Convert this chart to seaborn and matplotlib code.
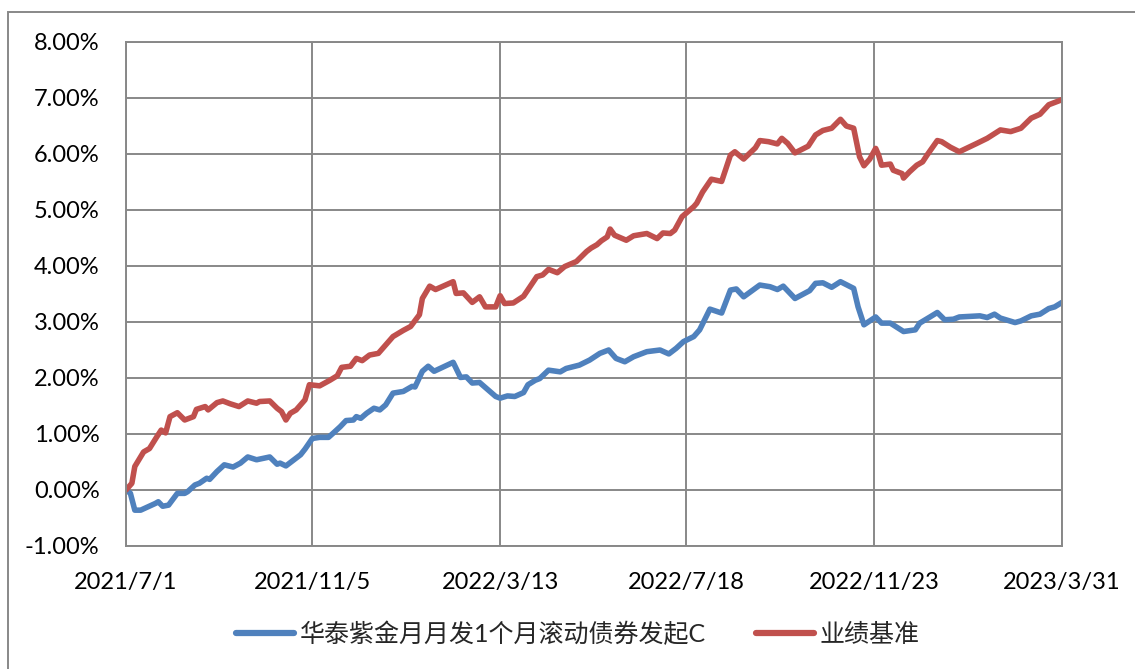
import matplotlib
matplotlib.use("Agg")
import matplotlib.pyplot as plt
import matplotlib.dates as mdates
from matplotlib.patches import Rectangle
from matplotlib.ticker import FuncFormatter, MultipleLocator
import pandas as pd
import seaborn as sns

FUND_NAME = "华泰紫金月月发1个月滚动债券发起C"
BENCH_NAME = "业绩基准"

# cumulative return of the fund, in percent
fund_dates = [
    "2021-07-01", "2021-07-04", "2021-07-07", "2021-07-11", "2021-07-16", "2021-07-21", "2021-07-23",
    "2021-07-26", "2021-07-30", "2021-08-05", "2021-08-10", "2021-08-12", "2021-08-17", "2021-08-20",
    "2021-08-25", "2021-08-27", "2021-09-01", "2021-09-06", "2021-09-12", "2021-09-17", "2021-09-22",
    "2021-09-28", "2021-10-07", "2021-10-12", "2021-10-14", "2021-10-18", "2021-10-22", "2021-10-28",
    "2021-10-31", "2021-11-05", "2021-11-10", "2021-11-16", "2021-11-19", "2021-11-24", "2021-11-28",
    "2021-12-03", "2021-12-05", "2021-12-08", "2021-12-12", "2021-12-17", "2021-12-21", "2021-12-25",
    "2021-12-30", "2022-01-06", "2022-01-12", "2022-01-14", "2022-01-19", "2022-01-23", "2022-01-27",
    "2022-02-09", "2022-02-14", "2022-02-18", "2022-02-22", "2022-02-27", "2022-03-10", "2022-03-13",
    "2022-03-18", "2022-03-23", "2022-03-29", "2022-04-01", "2022-04-06", "2022-04-09", "2022-04-15",
    "2022-04-23", "2022-04-27", "2022-05-06", "2022-05-13", "2022-05-20", "2022-05-26", "2022-05-31",
    "2022-06-06", "2022-06-12", "2022-06-21", "2022-06-27", "2022-06-30", "2022-07-06", "2022-07-11",
    "2022-07-16", "2022-07-23", "2022-07-27", "2022-08-03", "2022-08-11", "2022-08-17", "2022-08-21",
    "2022-08-26", "2022-09-06", "2022-09-13", "2022-09-18", "2022-09-22", "2022-09-30", "2022-10-10",
    "2022-10-14", "2022-10-19", "2022-10-25", "2022-10-31", "2022-11-09", "2022-11-12", "2022-11-16",
    "2022-11-24", "2022-11-28", "2022-12-04", "2022-12-13", "2022-12-21", "2022-12-24", "2022-12-31",
    "2023-01-05", "2023-01-10", "2023-01-16", "2023-01-20", "2023-02-03", "2023-02-08", "2023-02-13",
    "2023-02-17", "2023-02-27", "2023-03-03", "2023-03-10", "2023-03-16", "2023-03-22", "2023-03-26",
    "2023-03-31",
]
fund_values = [
    0.00, -0.06, -0.36, -0.36, -0.30, -0.24, -0.21,
    -0.29, -0.27, -0.06, -0.06, -0.03, 0.09, 0.12,
    0.21, 0.19, 0.33, 0.45, 0.41, 0.48, 0.59,
    0.54, 0.59, 0.46, 0.48, 0.43, 0.51, 0.63,
    0.73, 0.92, 0.94, 0.94, 1.01, 1.13, 1.24,
    1.25, 1.31, 1.28, 1.37, 1.46, 1.43, 1.52,
    1.73, 1.76, 1.85, 1.84, 2.12, 2.21, 2.12,
    2.28, 2.01, 2.02, 1.91, 1.92, 1.67, 1.64,
    1.68, 1.67, 1.74, 1.88, 1.96, 1.99, 2.14,
    2.11, 2.17, 2.23, 2.32, 2.44, 2.50, 2.35,
    2.29, 2.38, 2.47, 2.49, 2.50, 2.43, 2.53,
    2.65, 2.74, 2.86, 3.23, 3.16, 3.57, 3.59,
    3.45, 3.66, 3.63, 3.58, 3.64, 3.42, 3.56,
    3.69, 3.70, 3.62, 3.72, 3.60, 3.27, 2.95,
    3.09, 2.98, 2.98, 2.83, 2.86, 2.98, 3.09,
    3.17, 3.04, 3.05, 3.09, 3.11, 3.08, 3.14,
    3.07, 2.99, 3.02, 3.11, 3.14, 3.24, 3.27,
    3.35,
]

# cumulative return of the benchmark, in percent
bench_dates = [
    "2021-07-01", "2021-07-05", "2021-07-07", "2021-07-13", "2021-07-17", "2021-07-22", "2021-07-25",
    "2021-07-28", "2021-07-31", "2021-08-05", "2021-08-10", "2021-08-16", "2021-08-18", "2021-08-24",
    "2021-08-26", "2021-09-01", "2021-09-05", "2021-09-10", "2021-09-16", "2021-09-22", "2021-09-28",
    "2021-09-30", "2021-10-07", "2021-10-12", "2021-10-15", "2021-10-18", "2021-10-21", "2021-10-25",
    "2021-10-31", "2021-11-03", "2021-11-10", "2021-11-17", "2021-11-22", "2021-11-25", "2021-12-01",
    "2021-12-05", "2021-12-09", "2021-12-14", "2021-12-20", "2021-12-23", "2021-12-30", "2022-01-06",
    "2022-01-11", "2022-01-17", "2022-01-19", "2022-01-24", "2022-01-28", "2022-02-09", "2022-02-11",
    "2022-02-16", "2022-02-22", "2022-02-27", "2022-03-03", "2022-03-10", "2022-03-13", "2022-03-16",
    "2022-03-22", "2022-03-29", "2022-04-07", "2022-04-11", "2022-04-15", "2022-04-21", "2022-04-26",
    "2022-05-04", "2022-05-11", "2022-05-14", "2022-05-18", "2022-05-21", "2022-05-25", "2022-05-27",
    "2022-05-30", "2022-06-07", "2022-06-12", "2022-06-21", "2022-06-28", "2022-07-02", "2022-07-07",
    "2022-07-10", "2022-07-15", "2022-07-23", "2022-07-25", "2022-07-29", "2022-08-04", "2022-08-11",
    "2022-08-17", "2022-08-20", "2022-08-26", "2022-09-03", "2022-09-06", "2022-09-12", "2022-09-18",
    "2022-09-21", "2022-09-25", "2022-09-30", "2022-10-09", "2022-10-14", "2022-10-19", "2022-10-25",
    "2022-10-31", "2022-11-04", "2022-11-09", "2022-11-13", "2022-11-16", "2022-11-20", "2022-11-24",
    "2022-11-26", "2022-11-28", "2022-12-04", "2022-12-06", "2022-12-12", "2022-12-13", "2022-12-17",
    "2022-12-22", "2022-12-26", "2022-12-29", "2023-01-05", "2023-01-08", "2023-01-14", "2023-01-20",
    "2023-02-01", "2023-02-08", "2023-02-17", "2023-02-24", "2023-03-03", "2023-03-10", "2023-03-16",
    "2023-03-22", "2023-03-26", "2023-03-31",
]
bench_values = [
    0.00, 0.12, 0.42, 0.68, 0.74, 0.95, 1.07,
    1.02, 1.31, 1.38, 1.25, 1.31, 1.44, 1.49,
    1.43, 1.56, 1.59, 1.54, 1.49, 1.59, 1.55,
    1.58, 1.59, 1.46, 1.40, 1.25, 1.37, 1.43,
    1.61, 1.88, 1.86, 1.96, 2.04, 2.19, 2.21,
    2.35, 2.31, 2.41, 2.44, 2.53, 2.74, 2.85,
    2.92, 3.13, 3.42, 3.64, 3.58, 3.72, 3.51,
    3.52, 3.35, 3.45, 3.27, 3.27, 3.47, 3.33,
    3.34, 3.46, 3.81, 3.84, 3.94, 3.88, 3.99,
    4.08, 4.26, 4.32, 4.38, 4.45, 4.52, 4.66,
    4.55, 4.46, 4.54, 4.58, 4.49, 4.59, 4.58,
    4.64, 4.88, 5.06, 5.12, 5.32, 5.55, 5.51,
    5.98, 6.04, 5.91, 6.11, 6.24, 6.22, 6.18,
    6.28, 6.19, 6.02, 6.14, 6.34, 6.42, 6.46,
    6.62, 6.50, 6.46, 5.95, 5.79, 5.91, 6.10,
    5.98, 5.80, 5.82, 5.71, 5.65, 5.57, 5.68,
    5.80, 5.86, 5.98, 6.24, 6.22, 6.12, 6.04,
    6.19, 6.28, 6.43, 6.40, 6.46, 6.64, 6.71,
    6.88, 6.92, 6.97,
]

tick_dates = ["2021-07-01", "2021-11-05", "2022-03-13", "2022-07-18", "2022-11-23", "2023-03-31"]

fund_df = pd.DataFrame({"date": pd.to_datetime(fund_dates), "value": fund_values, "series": FUND_NAME})
bench_df = pd.DataFrame({"date": pd.to_datetime(bench_dates), "value": bench_values, "series": BENCH_NAME})
df = pd.concat([fund_df, bench_df], ignore_index=True)

sns.set_style("white")
plt.rcParams["font.family"] = ["Lato", "Noto Sans CJK SC", "DejaVu Sans"]

GRID = "#888888"

fig = plt.figure(figsize=(11.35, 6.69), dpi=100)
ax = fig.add_axes([126 / 1135, 1 - 546 / 669, (1062 - 126) / 1135, (546 - 42) / 669])

sns.lineplot(data=df, x="date", y="value", hue="series",
             palette={FUND_NAME: "#4F81BD", BENCH_NAME: "#C0504D"},
             linewidth=4.0, ax=ax, legend=True)
for line in ax.lines:
    line.set_solid_joinstyle("round")
    line.set_solid_capstyle("round")

ticks = pd.to_datetime(tick_dates)
ax.set_xlim(ticks[0], ticks[-1])
ax.set_ylim(-1, 8)
ax.set_xticks(ticks)
ax.xaxis.set_major_formatter(FuncFormatter(
    lambda v, pos: (lambda d: f"{d.year}/{d.month}/{d.day}")(mdates.num2date(v))))
ax.yaxis.set_major_locator(MultipleLocator(1))
ax.yaxis.set_major_formatter(FuncFormatter(lambda v, pos: f"{v:.2f}%"))

ax.grid(True, color=GRID, linewidth=1.4)
ax.set_axisbelow(True)
for sp in ax.spines.values():
    sp.set_color(GRID)
    sp.set_linewidth(1.4)
ax.tick_params(axis="both", length=0, labelsize=17, colors="black")
ax.tick_params(axis="x", pad=19)
ax.tick_params(axis="y", pad=19)
ax.set_xlabel("")
ax.set_ylabel("")

handles, labels = ax.get_legend_handles_labels()
ax.legend_.remove()
leg = fig.legend(handles, labels, loc="center", bbox_to_anchor=(578 / 1135, 1 - 634 / 669),
                 ncol=2, frameon=False, fontsize=18, handlelength=2.3, handletextpad=0.25,
                 columnspacing=2.0)
for h in leg.get_lines():
    h.set_linewidth(4.5)
    h.set_solid_capstyle("round")

# outer chart border (left and top only visible)
fig.patches.append(Rectangle((8 / 1135, -0.1), 1.2, 1.1 - 12 / 669, transform=fig.transFigure,
                             fill=False, edgecolor=GRID, linewidth=1.4))

fig.savefig("out.png", dpi=100)
